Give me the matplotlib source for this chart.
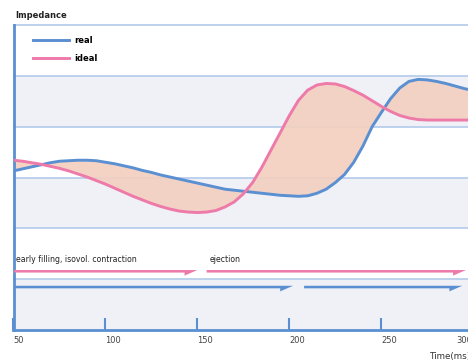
import matplotlib
matplotlib.use("Agg")
import matplotlib.pyplot as plt
import numpy as np
from matplotlib.patches import FancyArrow
from matplotlib.transforms import ScaledTranslation

# ---- data ----
time_ms = list(range(50, 305, 5))
real = [3.13, 3.17, 3.21, 3.25, 3.29, 3.32, 3.33, 3.34, 3.34, 3.33,
        3.30, 3.27, 3.23, 3.19, 3.14, 3.10, 3.05, 3.01, 2.97, 2.93,
        2.89, 2.85, 2.81, 2.77, 2.75, 2.73, 2.71, 2.69, 2.67, 2.65,
        2.64, 2.63, 2.64, 2.69, 2.77, 2.90, 3.06, 3.30, 3.62, 4.00,
        4.28, 4.55, 4.76, 4.89, 4.93, 4.92, 4.89, 4.85, 4.80, 4.75, 4.71]
ideal = [3.34, 3.32, 3.29, 3.26, 3.22, 3.18, 3.13, 3.07, 3.01, 2.94,
         2.87, 2.79, 2.71, 2.63, 2.56, 2.49, 2.43, 2.38, 2.34, 2.32,
         2.31, 2.32, 2.35, 2.42, 2.52, 2.68, 2.90, 3.20, 3.54, 3.88,
         4.22, 4.52, 4.72, 4.82, 4.85, 4.84, 4.79, 4.71, 4.62, 4.51,
         4.40, 4.30, 4.22, 4.17, 4.14, 4.13, 4.13, 4.13, 4.13, 4.13, 4.13]
series_labels = ["real", "ideal"]
xticks = [50, 100, 150, 200, 250, 300]

# phases: (label, start, end)
ideal_phases = [("early filling, isovol. contraction", 50, 150), ("ejection", 155, 296)]
real_phases = [("", 50, 202), ("", 208, 294)]

BLUE = "#5a8fd2"
PINK = "#ee7aa9"
GRID = "#b3cbeb"
BAND = "#eff1f6"
FILL = "#f3cfbf"

W, H = 468, 362
fig = plt.figure(figsize=(W / 100, H / 100), dpi=100)
ax = fig.add_axes([13.5 / W, 32 / H, 469 / W, 305 / H])
ax.set_xlim(50, 305)
ax.set_ylim(0, 6)

# bands
for lo in [0, 2, 4]:
    ax.axhspan(lo, lo + 1, color=BAND, zorder=0, lw=0)
for y in [1, 2, 3, 4, 5, 6]:
    ax.axhline(y, color=GRID, lw=1.2, zorder=1, clip_on=False)

t = np.array(time_ms)
r = np.array(real)
i = np.array(ideal)
ax.fill_between(t, r, i, color=FILL, alpha=0.9, zorder=2, lw=0)
ax.plot(t, r, color=BLUE, lw=2.1, label=series_labels[0], zorder=3)
ax.plot(t, i, color=PINK, lw=2.1, label=series_labels[1], zorder=3)

# phase arrows
def draw_arrow(x0, x1, y, color):
    a = FancyArrow(x0, y, x1 - x0, 0, width=0.1, head_width=0.22,
                   head_length=7, length_includes_head=True, shape="left",
                   color=color, lw=0, zorder=4)
    ax.add_patch(a)

for lab, s, e in ideal_phases:
    draw_arrow(s, e, 1.18, PINK)
    ax.text(s + 1.5, 1.30, lab, fontsize=5.6, color="#222222", va="bottom",
            ha="left", zorder=5)
for lab, s, e in real_phases:
    draw_arrow(s, e, 0.87, BLUE)

ax.set_yticks([])
ax.set_xticks(xticks)
ax.set_xticklabels([str(v) for v in xticks], fontsize=6, color="#444444")
ax.tick_params(axis="x", direction="in", length=9, width=1.5, color=BLUE, pad=4)
for lbl in ax.get_xticklabels():
    lbl.set_horizontalalignment("left")
last = ax.get_xticklabels()[-1]
last.set_transform(last.get_transform() + ScaledTranslation(-0.17, 0, fig.dpi_scale_trans))

for s in ["top", "right"]:
    ax.spines[s].set_visible(False)
ax.spines["left"].set_color(BLUE)
ax.spines["left"].set_linewidth(2)
ax.spines["bottom"].set_color(BLUE)
ax.spines["bottom"].set_linewidth(2)

fig.text(429 / W, 1 - 357 / H, "Time(ms)", fontsize=6.3, color="#333333",
         va="center", ha="left")

leg = ax.legend(loc="upper left", bbox_to_anchor=(0.025, 0.99), frameon=False,
                handlelength=4.4, labelspacing=1.15,
                handletextpad=0.6, prop={"weight": "bold", "size": 6})

fig.text(15 / W, 1 - 15 / H, "Impedance", fontsize=6, fontweight="bold",
         color="#222222", va="center", ha="left")

fig.savefig("out.png", dpi=100)
